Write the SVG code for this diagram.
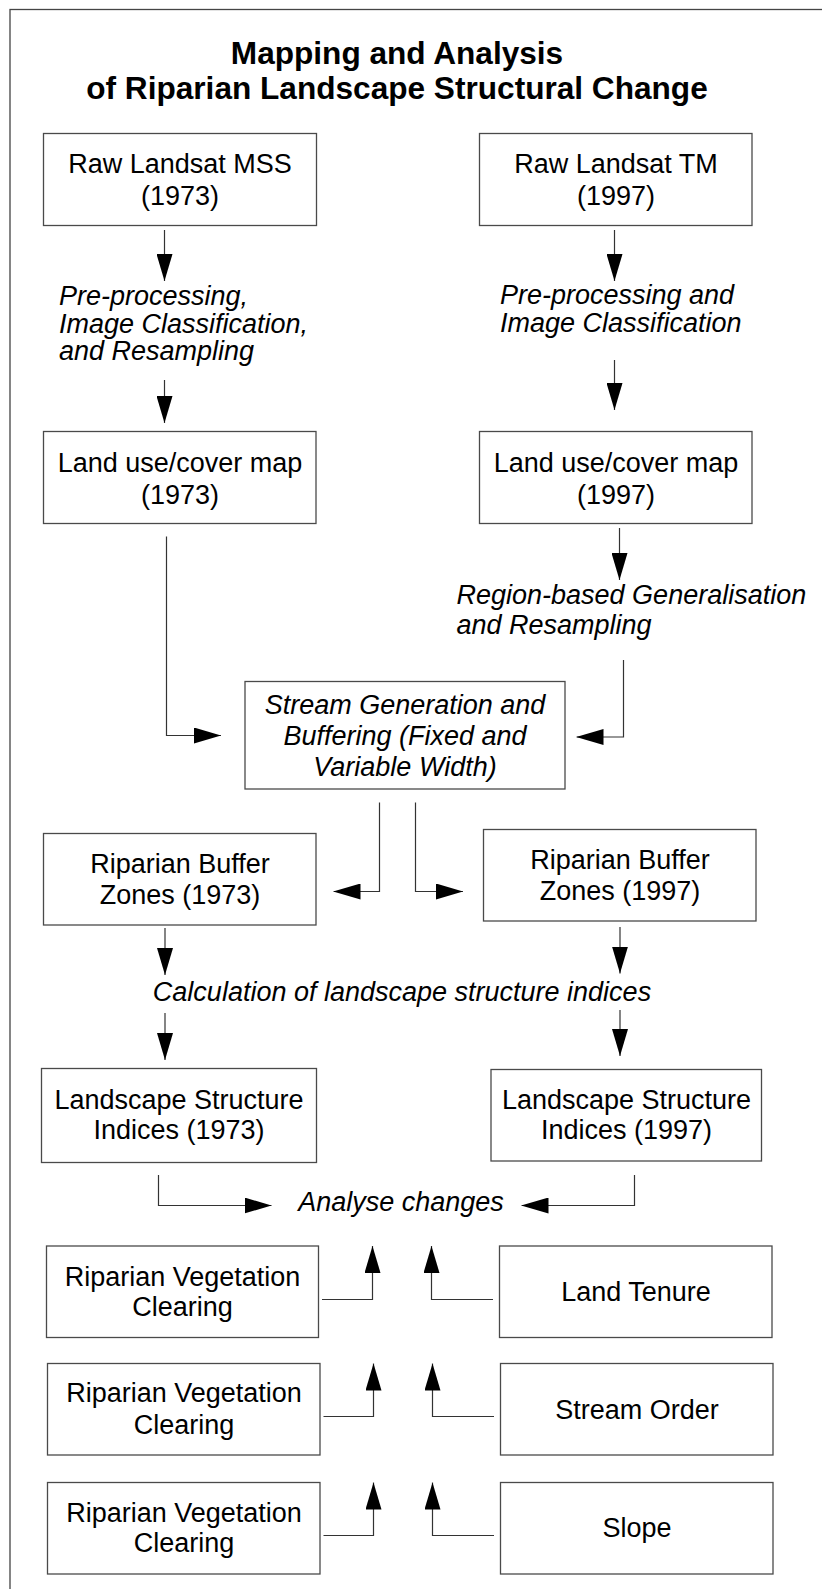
<svg xmlns="http://www.w3.org/2000/svg" width="822" height="1589" viewBox="0 0 822 1589">
<style>
.bx{fill:#fff;stroke:#4a4a4a;stroke-width:1.3}
.t{font-family:"Liberation Sans",Arial,sans-serif;font-size:27px;fill:#000}
.c{text-anchor:middle}
.i{font-style:italic}
.ttl{font-family:"Liberation Sans",Arial,sans-serif;font-size:31.6px;font-weight:bold;text-anchor:middle;fill:#000}
.ln{fill:none;stroke:#333;stroke-width:1.2}
</style>
<defs>
<marker id="ah" markerUnits="userSpaceOnUse" markerWidth="27" markerHeight="16" refX="27" refY="8" orient="auto" viewBox="0 0 27 16">
<path d="M0,0 L27,8 L0,16 Z" fill="#000"/>
</marker>
</defs>
<rect width="822" height="1589" fill="#fff"/>
<rect x="10" y="9.5" width="850" height="1620" fill="none" stroke="#444" stroke-width="1.3"/>
<g id="title">
<text class="ttl" x="397" y="64">Mapping and Analysis</text>
<text class="ttl" x="397" y="99">of Riparian Landscape Structural Change</text>
</g>
<g id="mss"><rect class="bx" x="43.5" y="133.5" width="273" height="92"/>
<text class="t c" x="180" y="173">Raw Landsat MSS</text><text class="t c" x="180" y="205">(1973)</text></g>
<g id="tm"><rect class="bx" x="479.5" y="133.5" width="272.5" height="92"/>
<text class="t c" x="616" y="173">Raw Landsat TM</text><text class="t c" x="616" y="205">(1997)</text></g>
<g id="label-prep1"><text class="t i" x="59" y="305">Pre-processing,</text><text class="t i" x="59" y="332.5">Image Classification,</text><text class="t i" x="59" y="360">and Resampling</text></g>
<g id="label-prep2"><text class="t i" x="500" y="303.5">Pre-processing and</text><text class="t i" x="500" y="331.5">Image Classification</text></g>
<g id="lu1973"><rect class="bx" x="43.5" y="431.5" width="272.5" height="92"/>
<text class="t c" x="180" y="471.5">Land use/cover map</text><text class="t c" x="180" y="503.5">(1973)</text></g>
<g id="lu1997"><rect class="bx" x="479.5" y="431.5" width="272.5" height="92"/>
<text class="t c" x="616" y="471.5">Land use/cover map</text><text class="t c" x="616" y="503.5">(1997)</text></g>
<g id="label-region"><text class="t i" x="456.5" y="603.5">Region-based Generalisation</text><text class="t i" x="456.5" y="633.5">and Resampling</text></g>
<g id="stream"><rect class="bx" x="245" y="681.5" width="320" height="107.5"/>
<text class="t c i" x="405" y="714">Stream Generation and</text><text class="t c i" x="405" y="745">Buffering (Fixed and</text><text class="t c i" x="405" y="776">Variable Width)</text></g>
<g id="rbz1973"><rect class="bx" x="43.5" y="833.5" width="272.5" height="91.5"/>
<text class="t c" x="180" y="873">Riparian Buffer</text><text class="t c" x="180" y="904">Zones (1973)</text></g>
<g id="rbz1997"><rect class="bx" x="483.5" y="829.5" width="272.5" height="91.5"/>
<text class="t c" x="620" y="869">Riparian Buffer</text><text class="t c" x="620" y="900">Zones (1997)</text></g>
<g id="label-calc"><text class="t c i" x="402" y="1001">Calculation of landscape structure indices</text></g>
<g id="lsi1973"><rect class="bx" x="41.5" y="1068.5" width="275" height="94"/>
<text class="t c" x="179" y="1108.5">Landscape Structure</text><text class="t c" x="179" y="1139">Indices (1973)</text></g>
<g id="lsi1997"><rect class="bx" x="491" y="1069.5" width="270.5" height="91.5"/>
<text class="t c" x="626.5" y="1108.5">Landscape Structure</text><text class="t c" x="626.5" y="1139">Indices (1997)</text></g>
<g id="label-analyse"><text class="t c i" x="401" y="1210.5">Analyse changes</text></g>
<g id="rvc1"><rect class="bx" x="46.5" y="1246" width="272" height="91.5"/>
<text class="t c" x="182.5" y="1285.5">Riparian Vegetation</text><text class="t c" x="182.5" y="1316">Clearing</text></g>
<g id="tenure"><rect class="bx" x="499.5" y="1246" width="272.5" height="91.5"/>
<text class="t c" x="636" y="1300.5">Land Tenure</text></g>
<g id="rvc2"><rect class="bx" x="47.5" y="1363.5" width="272.5" height="91.5"/>
<text class="t c" x="184" y="1402">Riparian Vegetation</text><text class="t c" x="184" y="1433.5">Clearing</text></g>
<g id="order"><rect class="bx" x="500.5" y="1363.5" width="272.5" height="91.5"/>
<text class="t c" x="637" y="1418.5">Stream Order</text></g>
<g id="rvc3"><rect class="bx" x="47.5" y="1482.5" width="272.5" height="91.5"/>
<text class="t c" x="184" y="1521.5">Riparian Vegetation</text><text class="t c" x="184" y="1552">Clearing</text></g>
<g id="slope"><rect class="bx" x="500.5" y="1482.5" width="272.5" height="91.5"/>
<text class="t c" x="637" y="1537">Slope</text></g>
<g id="connectors" class="ln" marker-end="url(#ah)">
<path class="ln" d="M164.5,230 V281"/>
<path class="ln" d="M614.5,230 V281"/>
<path class="ln" d="M164.5,380 V423"/>
<path class="ln" d="M614.5,360 V410"/>
<path class="ln" d="M619.5,528 V580"/>
<path class="ln" d="M166.5,536.5 V735.5 H221"/>
<path class="ln" d="M623.5,660 V737 H576.5"/>
<path class="ln" d="M379.5,802.5 V891.5 H333.5"/>
<path class="ln" d="M415.5,802.5 V891.5 H463"/>
<path class="ln" d="M165,928 V975"/>
<path class="ln" d="M620,927 V973.5"/>
<path class="ln" d="M165,1013 V1060"/>
<path class="ln" d="M620,1010 V1056"/>
<path class="ln" d="M158.5,1175 V1205.5 H271.5"/>
<path class="ln" d="M634.5,1175 V1205.5 H521.5"/>
<path class="ln" d="M322,1299.5 H372.5 V1246"/>
<path class="ln" d="M493,1299.5 H431.5 V1246"/>
<path class="ln" d="M323.5,1416.5 H373.5 V1363.5"/>
<path class="ln" d="M494,1416.5 H432.5 V1363.5"/>
<path class="ln" d="M323.5,1535.5 H373.5 V1482.5"/>
<path class="ln" d="M494,1535.5 H432.5 V1482.5"/>
</g>
</svg>
